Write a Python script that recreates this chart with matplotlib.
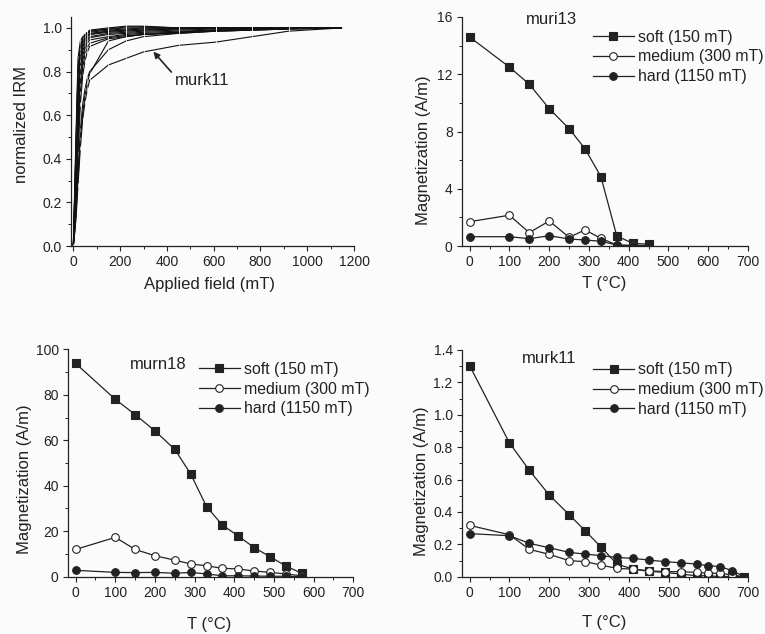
import matplotlib
matplotlib.use("Agg")
import matplotlib.pyplot as plt
from matplotlib.ticker import MultipleLocator

# IRM acquisition curves (normalized)
IRM_FIELD = [0, 10, 20, 30, 40, 50, 60, 70, 150, 225, 300, 450, 610, 765, 920, 1150]
IRM_CURVES = [
    [0, 0.45, 0.86, 0.94, 0.96, 0.97, 0.98, 0.985, 0.995, 1.005, 1.005, 1.0, 1.0, 1.0, 1.0, 1.0],
    [0, 0.42, 0.82, 0.92, 0.95, 0.97, 0.98, 0.99, 1.0, 1.008, 1.008, 1.0, 1.0, 1.0, 1.0, 1.0],
    [0, 0.40, 0.80, 0.91, 0.95, 0.965, 0.975, 0.985, 0.995, 1.0, 1.0, 1.0, 1.0, 1.0, 1.0, 1.0],
    [0, 0.38, 0.78, 0.90, 0.94, 0.96, 0.975, 0.98, 0.99, 0.995, 1.0, 1.0, 1.0, 1.0, 1.0, 1.0],
    [0, 0.34, 0.72, 0.88, 0.93, 0.955, 0.965, 0.975, 0.985, 0.99, 0.995, 0.998, 1.0, 1.0, 1.0, 1.0],
    [0, 0.32, 0.70, 0.86, 0.92, 0.95, 0.96, 0.97, 0.985, 0.99, 0.99, 0.995, 1.0, 1.0, 1.0, 1.0],
    [0, 0.30, 0.67, 0.85, 0.91, 0.94, 0.96, 0.97, 0.98, 0.985, 0.99, 0.995, 1.0, 1.0, 1.0, 1.0],
    [0, 0.27, 0.62, 0.82, 0.89, 0.93, 0.95, 0.96, 0.975, 0.98, 0.985, 0.99, 0.995, 1.0, 1.0, 1.0],
    [0, 0.24, 0.57, 0.78, 0.87, 0.915, 0.94, 0.955, 0.97, 0.975, 0.98, 0.985, 0.99, 0.995, 1.0, 1.0],
    [0, 0.21, 0.52, 0.74, 0.85, 0.90, 0.93, 0.945, 0.96, 0.97, 0.975, 0.98, 0.99, 0.995, 1.0, 1.0],
    [0, 0.19, 0.47, 0.70, 0.82, 0.88, 0.91, 0.93, 0.955, 0.965, 0.97, 0.98, 0.985, 0.99, 0.995, 1.0],
    [0, 0.16, 0.42, 0.65, 0.78, 0.85, 0.89, 0.915, 0.95, 0.96, 0.97, 0.975, 0.985, 0.99, 0.995, 1.0],
    [0, 0.13, 0.34, 0.53, 0.65, 0.72, 0.77, 0.80, 0.90, 0.94, 0.96, 0.975, 0.985, 0.99, 0.995, 1.0],
    [0, 0.12, 0.31, 0.49, 0.61, 0.69, 0.75, 0.79, 0.94, 0.96, 0.97, 0.98, 0.99, 0.995, 1.0, 1.0],
    [0, 0.10, 0.28, 0.45, 0.58, 0.66, 0.72, 0.76, 0.83, 0.86, 0.89, 0.92, 0.935, 0.96, 0.985, 1.0],
]

# thermal demagnetization of three-axis IRM
T_MURI13 = [0, 100, 150, 200, 250, 290, 330, 370, 410, 450]
SOFT_MURI13 = [14.6, 12.5, 11.3, 9.6, 8.2, 6.8, 4.85, 0.7, 0.19, 0.12]
MEDIUM_MURI13 = [1.7, 2.15, 0.93, 1.75, 0.61, 1.12, 0.54, 0.07, 0.05, 0.03]
HARD_MURI13 = [0.65, 0.65, 0.51, 0.72, 0.49, 0.42, 0.33, 0.07, 0.0, 0.02]

T_MURN18 = [0, 100, 150, 200, 250, 290, 330, 370, 410, 450, 490, 530, 570]
SOFT_MURN18 = [93.8, 78.0, 71.3, 64.1, 56.0, 45.2, 30.8, 22.7, 17.9, 12.8, 8.8, 4.7, 1.5]
MEDIUM_MURN18 = [12.0, 17.3, 12.0, 9.2, 7.3, 5.6, 4.8, 3.7, 3.4, 2.5, 1.9, 1.2, 0.4]
HARD_MURN18 = [2.8, 1.9, 1.8, 1.9, 1.5, 1.9, 1.2, 0.4, 0.4, 0.3, 0.2, 0.2, 0.0]

T_MURK11 = [0, 100, 150, 200, 250, 290, 330, 370, 410, 450, 490, 530, 570, 600, 630, 660, 690]
SOFT_MURK11 = [1.303, 0.826, 0.657, 0.504, 0.383, 0.284, 0.183, 0.078, 0.047, 0.033,
               0.027, 0.016, 0.006, 0.006, 0.0, 0.002, 0.0]
MEDIUM_MURK11 = [0.317, 0.259, 0.169, 0.138, 0.099, 0.093, 0.072, 0.051, 0.047, 0.037,
                 0.031, 0.031, 0.027, 0.021, 0.021, 0.010, 0.0]
HARD_MURK11 = [0.266, 0.253, 0.206, 0.179, 0.150, 0.140, 0.130, 0.119, 0.113, 0.103,
               0.093, 0.086, 0.078, 0.068, 0.062, 0.037, 0.0]

LEGEND = ["soft (150 mT)", "medium (300 mT)", "hard (1150 mT)"]
INK = "#222222"
W, H = 765, 634
LABEL_SIZE = 12
TICK_SIZE = 10


def frac(left, top, right, bottom):
    return [left / W, 1 - bottom / H, (right - left) / W, (bottom - top) / H]


def style(ax, xmaj, xmin, ymaj, ymin):
    for s in ("top", "right"):
        ax.spines[s].set_visible(False)
    for s in ("left", "bottom"):
        ax.spines[s].set_linewidth(0.9)
        ax.spines[s].set_color(INK)
    ax.xaxis.set_major_locator(MultipleLocator(xmaj))
    ax.xaxis.set_minor_locator(MultipleLocator(xmin))
    ax.yaxis.set_major_locator(MultipleLocator(ymaj))
    ax.yaxis.set_minor_locator(MultipleLocator(ymin))
    ax.tick_params(which="major", direction="out", length=3.5, width=0.8, colors=INK,
                   labelsize=TICK_SIZE, pad=3)
    ax.tick_params(which="minor", direction="out", length=2, width=0.7, colors=INK)
    ax.set_facecolor("none")


def demag(ax, t, soft, medium, hard, name, name_xy):
    kw = dict(color=INK, linewidth=0.9, markersize=5.5, markeredgewidth=0.8, markeredgecolor=INK)
    ax.plot(t, soft, marker="s", markerfacecolor=INK, label=LEGEND[0], **kw)
    ax.plot(t, medium, marker="o", markerfacecolor="white", label=LEGEND[1], **kw)
    ax.plot(t, hard, marker="o", markerfacecolor=INK, label=LEGEND[2], **kw)
    ax.set_xlim(-20, 700)
    ax.text(name_xy[0], name_xy[1], name, transform=ax.transAxes, ha="center", va="center",
            fontsize=LABEL_SIZE, color=INK)
    ax.legend(loc="upper left", bbox_to_anchor=(0.458, 0.945), frameon=False, fontsize=11.4,
              handlelength=2.6, handletextpad=0.25, labelspacing=0.3, borderpad=0, borderaxespad=0,
              labelcolor=INK, markerscale=1.0)
    ax.set_xlabel("T (°C)", fontsize=LABEL_SIZE, color=INK, va="center")
    ax.set_ylabel("Magnetization (A/m)", fontsize=LABEL_SIZE, color=INK, va="center")


plt.rcParams["font.family"] = ["Liberation Sans", "DejaVu Sans"]
fig = plt.figure(figsize=(7.65, 6.34), dpi=100, facecolor="#fbfbfb")

# IRM acquisition
ax1 = fig.add_axes(frac(71, 17, 354, 246))
for curve in IRM_CURVES:
    ax1.plot(IRM_FIELD, curve, color="#111111", linewidth=0.8, marker="|", markersize=3,
             markeredgecolor="white", markeredgewidth=0.5)
ax1.set_xlim(-10, 1200)
ax1.set_ylim(0, 1.05)
style(ax1, 200, 100, 0.2, 0.1)
ax1.yaxis.set_major_formatter(plt.FormatStrFormatter("%.1f"))
ax1.set_xlabel("Applied field (mT)", fontsize=LABEL_SIZE, color=INK, va="center")
ax1.set_ylabel("normalized IRM", fontsize=LABEL_SIZE, color=INK, va="center")
ax1.xaxis.set_label_coords(0.49, -0.166)
ax1.yaxis.set_label_coords(-0.174, 0.53)
ax1.annotate("murk11", xy=(342, 0.891), xytext=(435, 0.761), fontsize=LABEL_SIZE, color=INK,
             ha="left", va="center",
             arrowprops=dict(arrowstyle="-|>", color=INK, lw=1.2, mutation_scale=9, shrinkA=1, shrinkB=0,
                             relpos=(0, 0.75)))

# muri13
ax2 = fig.add_axes(frac(461.7, 17, 748, 246))
demag(ax2, T_MURI13, SOFT_MURI13, MEDIUM_MURI13, HARD_MURI13, "muri13", (0.312, 0.99))
ax2.set_ylim(0, 16)
style(ax2, 100, 50, 4, 2)
ax2.xaxis.set_label_coords(0.497, -0.162)
ax2.yaxis.set_label_coords(-0.135, 0.42)

# murn18
ax3 = fig.add_axes(frac(67.7, 349.3, 353.3, 576.7))
demag(ax3, T_MURN18, SOFT_MURN18, MEDIUM_MURN18, HARD_MURN18, "murn18", (0.316, 0.931))
ax3.set_ylim(0, 100)
style(ax3, 100, 50, 20, 10)
ax3.xaxis.set_label_coords(0.497, -0.212)
ax3.yaxis.set_label_coords(-0.150, 0.43)

# murk11
ax4 = fig.add_axes(frac(461.7, 350, 748.3, 576.7))
demag(ax4, T_MURK11, SOFT_MURK11, MEDIUM_MURK11, HARD_MURK11, "murk11", (0.305, 0.963))
ax4.set_ylim(0, 1.4)
style(ax4, 100, 50, 0.2, 0.1)
ax4.yaxis.set_major_formatter(plt.FormatStrFormatter("%.1f"))
ax4.xaxis.set_label_coords(0.497, -0.204)
ax4.yaxis.set_label_coords(-0.14, 0.42)

fig.savefig("out.png", dpi=100, facecolor=fig.get_facecolor())
